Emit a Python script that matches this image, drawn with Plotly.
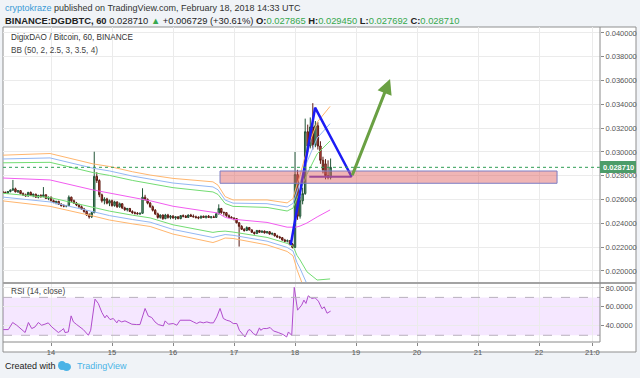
import plotly.graph_objects as go

W, H = 640, 378

# ---------------- data (prices in units of 1e-5 BTC, hours since 2018-02-13 05:00 UTC) ----------------
PRICE_UNIT = 1e-5
opens_e5 = [2665, 2660, 2655, 2668, 2680, 2690, 2665, 2675, 2650, 2640,
            2630, 2660, 2635, 2645, 2620, 2635, 2625, 2640, 2610, 2620,
            2590, 2575, 2585, 2560, 2550, 2545, 2550, 2620, 2590, 2570,
            2555, 2540, 2520, 2500, 2470, 2455, 2490, 2795, 2760, 2640,
            2590, 2605, 2570, 2590, 2550, 2580, 2540, 2565, 2530, 2515,
            2525, 2500, 2490, 2485, 2480, 2485, 2620, 2600, 2570, 2540,
            2510, 2480, 2450, 2470, 2440, 2470, 2450, 2460, 2445, 2455,
            2440, 2465, 2460, 2450, 2470, 2460, 2455, 2450, 2445, 2460,
            2450, 2460, 2450, 2455, 2450, 2480, 2525, 2490, 2490, 2465,
            2450, 2445, 2440, 2405, 2375, 2350, 2340, 2365, 2345, 2325,
            2315, 2340, 2325, 2335, 2320, 2330, 2310, 2315, 2295, 2285,
            2280, 2260, 2250, 2255, 2225, 2198, 2810, 2460, 2590, 2650,
            3170, 3050, 3210, 3060, 3220, 3050, 2930, 2900, 2800, 2786.5]
highs_e5 = [2672, 2668, 2670, 2685, 2765, 2700, 2680, 2678, 2660, 2650,
            2665, 2668, 2650, 2650, 2640, 2645, 2705, 2645, 2625, 2625,
            2600, 2590, 2590, 2570, 2560, 2555, 2635, 2625, 2600, 2580,
            2565, 2550, 2530, 2510, 2485, 2495, 3002, 2830, 2770, 2650,
            2620, 2615, 2600, 2600, 2590, 2585, 2575, 2570, 2540, 2530,
            2530, 2510, 2500, 2495, 2490, 2695, 2640, 2610, 2580, 2550,
            2520, 2490, 2475, 2475, 2480, 2480, 2470, 2470, 2460, 2460,
            2470, 2475, 2470, 2475, 2480, 2475, 2465, 2460, 2465, 2465,
            2465, 2470, 2460, 2465, 2490, 2560, 2530, 2500, 2495, 2475,
            2460, 2450, 2445, 2410, 2385, 2360, 2375, 2370, 2350, 2330,
            2345, 2345, 2340, 2340, 2335, 2335, 2325, 2320, 2305, 2295,
            2285, 2270, 2265, 2260, 2235, 3000, 2850, 2625, 2700, 3280,
            3230, 3290, 3410, 3260, 3250, 3090, 2960, 2940, 2930, 2945]
lows_e5 = [2655, 2650, 2650, 2660, 2672, 2660, 2655, 2645, 2630, 2625,
           2625, 2630, 2620, 2615, 2610, 2615, 2620, 2605, 2595, 2585,
           2570, 2560, 2555, 2540, 2535, 2535, 2545, 2580, 2565, 2545,
           2530, 2515, 2490, 2465, 2440, 2445, 2485, 2740, 2620, 2575,
           2560, 2560, 2545, 2540, 2540, 2530, 2530, 2520, 2505, 2500,
           2495, 2480, 2475, 2475, 2470, 2480, 2590, 2560, 2530, 2500,
           2470, 2440, 2440, 2430, 2435, 2440, 2435, 2440, 2430, 2435,
           2435, 2450, 2445, 2445, 2455, 2450, 2440, 2435, 2440, 2445,
           2440, 2445, 2440, 2445, 2445, 2475, 2480, 2465, 2455, 2445,
           2440, 2425, 2400, 2205, 2345, 2330, 2335, 2340, 2320, 2305,
           2310, 2320, 2320, 2315, 2315, 2305, 2300, 2290, 2280, 2270,
           2255, 2245, 2240, 2215, 2190, 2195, 2430, 2440, 2560, 2640,
           3000, 3030, 3020, 3040, 3020, 2900, 2820, 2770, 2770, 2769.2]
closes_e5 = [2660, 2655, 2668, 2680, 2690, 2665, 2675, 2650, 2640, 2630,
             2660, 2635, 2645, 2620, 2635, 2625, 2640, 2610, 2620, 2590,
             2575, 2585, 2560, 2550, 2545, 2550, 2620, 2590, 2570, 2555,
             2540, 2520, 2500, 2470, 2455, 2490, 2795, 2760, 2640, 2590,
             2605, 2570, 2590, 2550, 2580, 2540, 2565, 2530, 2515, 2525,
             2500, 2490, 2485, 2480, 2485, 2620, 2600, 2570, 2540, 2510,
             2480, 2450, 2470, 2440, 2470, 2450, 2460, 2445, 2455, 2440,
             2465, 2460, 2450, 2470, 2460, 2455, 2450, 2445, 2460, 2450,
             2460, 2450, 2455, 2450, 2480, 2525, 2490, 2490, 2465, 2450,
             2445, 2440, 2405, 2375, 2350, 2340, 2365, 2345, 2325, 2315,
             2340, 2325, 2335, 2320, 2330, 2310, 2315, 2295, 2285, 2280,
             2260, 2250, 2255, 2225, 2198, 2810, 2460, 2590, 2650, 3170,
             3050, 3210, 3060, 3220, 3050, 2930, 2850, 2800, 2787, 2871]

# Bollinger Bands (50): basis and one standard deviation
bb_hours = [0, 18.6, 35.5, 42, 51, 58, 67, 82.7, 84.7, 87.5, 90.6, 104, 111.9,
            114.2, 115.8, 117, 119.7, 123.7, 128.8]
bb_basis_e5 = [2781, 2765, 2681, 2653, 2615, 2590, 2544, 2494, 2487, 2451, 2435,
               2408, 2368, 2368, 2370, 2378, 2403, 2454, 2513]
bb_sigma_e5 = [64, 74, 73, 75, 73, 72, 78, 85, 78, 58, 54, 63, 68,
               80, 120, 143, 205, 265, 290]
bb_mults = [2, 2.5, 3]
bb_colors = ["#72dc72", "#93b7f3", "#ffb66e"]

# RSI (14, close)
rsi_hours = [0.2, 2.2, 3.9, 5.5, 8.8, 10.1, 11.4, 12.7, 14, 15.3, 16.6, 17.9, 19.3,
             21.9, 23.2, 23.9, 24.5, 25.8, 26.9, 27.8, 29.1, 30.4, 31.7, 33.7, 34.6,
             36.3, 37.6, 39, 40.2, 40.9, 42.2, 43.5, 44.9, 45.5, 46.8, 48.1, 49.4,
             50.8, 52.7, 54, 56, 57.3, 58.6, 59.9, 61.2, 63.2, 63.9, 65.2, 67.1,
             68.5, 69.8, 71.1, 73.7, 75, 76.3, 77.6, 78.9, 80.3, 81.6, 82.9, 84.2,
             85.5, 86.8, 88.1, 89.4, 90.7, 92.1, 93.1, 94.7, 95.3, 96.6, 97.3, 98.6,
             99.7, 101, 101.5, 102.5, 103.9, 105.2, 106.5, 108.4, 110.4, 111.7,
             112.4, 113.7, 114.7, 116, 117.6, 118.5, 119.3, 120.2, 121.6, 122.9,
             124.2, 125.6, 126.5, 127.6, 129]
rsi_values = [36, 36, 43.5, 40.6, 32.9, 43.5, 37.1, 38.8, 43.5, 40.6, 41.7, 43.1, 38.8,
              32.9, 35.3, 37.1, 32.9, 33.5, 50.5, 44.1, 41.3, 38.8, 36, 30, 35.3,
              68.2, 63.6, 54.1, 48.4, 51.2, 46.6, 47.7, 43.1, 45.9, 44.1, 45.2, 43.1,
              41.7, 41.3, 41.3, 58.3, 50.2, 48.8, 44.1, 41.3, 39.9, 45.2, 41.7, 42.4,
              40.6, 45.9, 45.9, 45.9, 44.1, 42.4, 44.1, 43.1, 44.1, 43.1, 43.1, 49.4,
              58.3, 47.7, 45.9, 44.9, 42.4, 42.4, 35.3, 30, 28.2, 35.3, 36, 31.8,
              30, 37.8, 35.3, 37.1, 37.1, 38.2, 34.6, 32.9, 30.7, 28.2,
              33.5, 30, 80.6, 56.5, 61.8, 67.1, 63.6, 71.7, 68.9, 69.6,
              66, 58, 60, 53.3, 55.5]

# Drawings on the chart
zone_hours = [85.5, 218.1]
zone_prices = [0.02737, 0.02840]
triangle_hours = [113.3, 122.9, 137.3]
triangle_prices = [0.02218, 0.03372, 0.02792]
base_hours = [120.6, 137.3]
base_prices = [0.02792, 0.02792]
arrow_hours = [137.3, 152.4]
arrow_prices = [0.02792, 0.03613]
last_price = 0.028710

# Axis ticks
day_hours = [19, 43, 67, 91, 115, 139, 163, 187, 211, 232]
day_labels = ["14", "15", "16", "17", "18", "19", "20", "21", "22", "21:0"]
price_ticks = [0.020, 0.022, 0.024, 0.026, 0.028, 0.030, 0.032, 0.034, 0.036, 0.038, 0.040]
rsi_ticks = [40, 60, 80]

# ---------------- figure ----------------
def fx(px):
    return px / W


def fy(py):
    return 1 - py / H


FONT = "Liberation Sans, Arial, sans-serif"
hours = list(range(len(opens_e5)))
sc = lambda arr: [v * PRICE_UNIT for v in arr]

fig = go.Figure()

# Bollinger bands
for k, col in zip(bb_mults, bb_colors):
    up = [(b + k * s) * PRICE_UNIT for b, s in zip(bb_basis_e5, bb_sigma_e5)]
    lo = [(b - k * s) * PRICE_UNIT for b, s in zip(bb_basis_e5, bb_sigma_e5)]
    for arr in (up, lo):
        fig.add_trace(go.Scatter(x=bb_hours, y=arr, mode="lines", line=dict(color=col, width=1),
                                 xaxis="x", yaxis="y", showlegend=False, hoverinfo="skip"))
fig.add_trace(go.Scatter(x=bb_hours, y=sc(bb_basis_e5), mode="lines", line=dict(color="#f25cf0", width=1),
                         xaxis="x", yaxis="y", showlegend=False, hoverinfo="skip"))

fig.add_trace(go.Candlestick(
    x=hours, open=sc(opens_e5), high=sc(highs_e5), low=sc(lows_e5), close=sc(closes_e5),
    increasing=dict(line=dict(color="#225437", width=1), fillcolor="#6ba583"),
    decreasing=dict(line=dict(color="#5b1a13", width=1), fillcolor="#d75442"),
    whiskerwidth=0, xaxis="x", yaxis="y", showlegend=False, hoverinfo="skip"))

# pattern drawings
fig.add_trace(go.Scatter(x=base_hours, y=base_prices, mode="lines", line=dict(color="#6a3cc8", width=2),
                         xaxis="x", yaxis="y", showlegend=False, hoverinfo="skip"))
fig.add_trace(go.Scatter(x=triangle_hours, y=triangle_prices, mode="lines", line=dict(color="#1c1cf5", width=2.5),
                         xaxis="x", yaxis="y", showlegend=False, hoverinfo="skip"))

# RSI
fig.add_trace(go.Scatter(x=rsi_hours, y=rsi_values, mode="lines", line=dict(color="#b04ccc", width=1),
                         xaxis="x2", yaxis="y2", showlegend=False, hoverinfo="skip"))

xr = [0.1, 235]
shapes = [
    dict(type="rect", xref="paper", yref="paper", x0=fx(3), x1=fx(636), y0=fy(352), y1=fy(27),
         fillcolor="white", line=dict(color="#8f8f8f", width=1), layer="below"),
    dict(type="rect", xref="x2", yref="y2", x0=xr[0], x1=xr[1], y0=30, y1=70,
         fillcolor="rgba(153,21,255,0.10)", line=dict(width=0), layer="below"),
    dict(type="line", xref="x2", yref="y2", x0=xr[0], x1=xr[1], y0=70, y1=70,
         line=dict(color="#b8b0bd", width=1, dash="dash")),
    dict(type="line", xref="x2", yref="y2", x0=xr[0], x1=xr[1], y0=30, y1=30,
         line=dict(color="#b8b0bd", width=1, dash="dash")),
    dict(type="rect", xref="x", yref="y", x0=zone_hours[0], x1=zone_hours[1], y0=zone_prices[0], y1=zone_prices[1],
         fillcolor="rgba(222,90,90,0.45)", line=dict(color="#7d7dc4", width=1)),
    dict(type="line", xref="x", yref="y", x0=xr[0], x1=xr[1], y0=last_price, y1=last_price,
         line=dict(color="#2f9e55", width=1, dash="dot")),
    dict(type="line", xref="paper", yref="paper", x0=fx(3), x1=fx(636), y0=fy(283), y1=fy(283),
         line=dict(color="#a3a3a3", width=2)),
    dict(type="line", xref="paper", yref="paper", x0=fx(600), x1=fx(600), y0=fy(342), y1=fy(27),
         line=dict(color="#8a8a8a", width=1)),
    dict(type="line", xref="paper", yref="paper", x0=fx(3), x1=fx(600), y0=fy(342), y1=fy(342),
         line=dict(color="#8a8a8a", width=1)),
    dict(type="rect", xref="paper", yref="paper", x0=fx(600), x1=fx(636), y0=fy(173), y1=fy(161),
         fillcolor="#4c9c69", line=dict(width=0)),
    # TradingView logo (small cloud)
    dict(type="circle", xref="paper", yref="paper", x0=fx(58), x1=fx(66), y0=fy(370), y1=fy(361),
         fillcolor="#4bb3e6", line=dict(width=0)),
    dict(type="circle", xref="paper", yref="paper", x0=fx(62), x1=fx(71), y0=fy(371), y1=fy(363),
         fillcolor="#4bb3e6", line=dict(width=0)),
]

annotations = [
    dict(xref="paper", yref="paper", x=fx(3), y=fy(8), xanchor="left", yanchor="middle", showarrow=False,
         text="<span style='color:#3a9ad6'>cryptokraze</span> published on TradingView.com, February 18, 2018 14:33 UTC",
         font=dict(family=FONT, size=9, color="#333")),
    dict(xref="paper", yref="paper", x=fx(3), y=fy(20), xanchor="left", yanchor="middle", showarrow=False,
         text=("<b>BINANCE:DGDBTC, 60</b> 0.028710 <span style='color:#37a84e'>▲</span> +0.006729 (+30.61%) "
               "<b>O:</b><span style='color:#37a84e'>0.027865</span> <b>H:</b><span style='color:#37a84e'>0.029450</span> "
               "<b>L:</b><span style='color:#37a84e'>0.027692</span> <b>C:</b><span style='color:#37a84e'>0.028710</span>"),
         font=dict(family=FONT, size=9.4, color="#222")),
    dict(xref="paper", yref="paper", x=fx(9), y=fy(38), xanchor="left", yanchor="middle", showarrow=False,
         text="DigixDAO / Bitcoin, 60, BINANCE", font=dict(family=FONT, size=8.2, color="#333")),
    dict(xref="paper", yref="paper", x=fx(9), y=fy(51), xanchor="left", yanchor="middle", showarrow=False,
         text="BB (50, 2, 2.5, 3, 3.5, 4)", font=dict(family=FONT, size=8.2, color="#444")),
    dict(xref="paper", yref="paper", x=fx(9), y=fy(291), xanchor="left", yanchor="middle", showarrow=False,
         text="RSI (14, close)", font=dict(family=FONT, size=8.2, color="#444")),
    dict(xref="paper", yref="paper", x=fx(618), y=fy(167), xanchor="center", yanchor="middle", showarrow=False,
         text="<b>0.028710</b>", font=dict(family=FONT, size=7.5, color="white")),
    dict(xref="paper", yref="paper", x=fx(3), y=fy(366), xanchor="left", yanchor="middle", showarrow=False,
         text="Created with", font=dict(family=FONT, size=9, color="#222")),
    dict(xref="paper", yref="paper", x=fx(75), y=fy(366), xanchor="left", yanchor="middle", showarrow=False,
         text="TradingView", font=dict(family=FONT, size=9, color="#4bb3e6")),
    dict(xref="x", yref="y", axref="x", ayref="y", x=arrow_hours[1], y=arrow_prices[1],
         ax=arrow_hours[0], ay=arrow_prices[0], showarrow=True, arrowhead=2, arrowsize=1,
         arrowwidth=3, arrowcolor="#6aa043", text=""),
]

grid = "#ebebeb"
tickfont = dict(family=FONT, size=7.5, color="#555")
fig.update_layout(
    width=W, height=H, margin=dict(l=0, r=0, t=0, b=0), autosize=False,
    paper_bgcolor="#f0f3f7", plot_bgcolor="white", showlegend=False, boxgap=0.2,
    shapes=shapes, annotations=annotations,
    xaxis=dict(domain=[fx(3), fx(600)], range=xr, anchor="y", tickvals=day_hours, showticklabels=False,
               showgrid=True, gridcolor=grid, zeroline=False, rangeslider=dict(visible=False), fixedrange=True),
    yaxis=dict(domain=[fy(283), fy(27)], range=[0.01899, 0.04050], side="right", anchor="x",
               tickvals=price_ticks, ticktext=["%.6f" % v for v in price_ticks], tickfont=tickfont,
               ticks="outside", ticklen=3, tickcolor="#888", showgrid=True, gridcolor=grid, zeroline=False),
    xaxis2=dict(domain=[fx(3), fx(600)], range=xr, anchor="y2", matches="x", tickvals=day_hours,
                ticktext=day_labels, tickfont=tickfont, ticks="outside", ticklen=3, tickcolor="#888",
                showgrid=True, gridcolor=grid, zeroline=False),
    yaxis2=dict(domain=[fy(342), fy(283)], range=[22.9, 85.2], side="right", anchor="x2",
                tickvals=rsi_ticks, ticktext=["%.4f" % v for v in rsi_ticks], tickfont=tickfont,
                ticks="outside", ticklen=3, tickcolor="#888", showgrid=True, gridcolor=grid, zeroline=False),
)

fig.write_html("out.html", config={"displayModeBar": False, "staticPlot": True},
               post_script="document.body.style.margin='0';document.body.style.overflow='hidden';")
